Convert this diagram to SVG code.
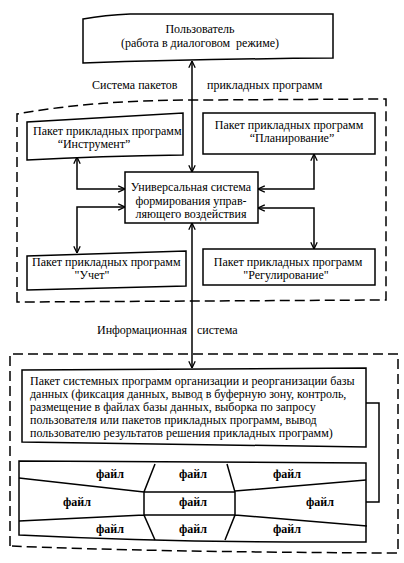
<svg xmlns="http://www.w3.org/2000/svg" width="404" height="563" viewBox="0 0 404 563">
<defs>
<style>
.bx{fill:#fff;stroke:#000;stroke-width:1.5}
.ds{fill:none;stroke:#000;stroke-width:1.5;stroke-dasharray:10,5}
.ln{fill:none;stroke:#000;stroke-width:1.5}
.cn{fill:none;stroke:#000;stroke-width:1.5;marker-start:url(#arr);marker-end:url(#arr)}
text{font-family:"Liberation Serif","Times New Roman",serif;font-size:12px;fill:#000}
.c{text-anchor:middle}
.f{font-weight:bold;text-anchor:middle}
</style>
<marker id="arr" viewBox="0 0 10 10" refX="9.5" refY="5" markerWidth="8" markerHeight="8" markerUnits="userSpaceOnUse" orient="auto-start-reverse">
<path d="M1,1 L9.5,5 L1,9" fill="none" stroke="#000" stroke-width="1.6"/>
</marker>
</defs>
<rect width="404" height="563" fill="#fff"/>

<g id="frame-apps">
<path class="ds" d="M17,302 L17,114 Q95,100 195,100 L386,99 L386,300 Z"/>
<text x="92" y="89">Система пакетов</text>
<text x="207" y="89">прикладных программ</text>
</g>

<g id="frame-info">
<path class="ds" d="M10,546 L10,354 L398,354 L398,553 Q150,552 10,546"/>
<text y="334"><tspan x="97">Информационная</tspan><tspan x="197">система</tspan></text>
</g>

<g id="connectors">
<line class="cn" x1="192" y1="61" x2="192" y2="172"/>
<line class="cn" x1="192" y1="223" x2="192" y2="368"/>
<path class="cn" d="M77,157 L77,189 L125,189"/>
<path class="cn" d="M125,207 L77,207 L77,253"/>
<path class="cn" d="M314,154 L314,189 L258,189"/>
<path class="cn" d="M258,208 L314,208 L314,249"/>
<path class="ln" d="M366,403 L379,403 L379,502 L366,502"/>
</g>

<g id="user">
<path class="bx" d="M83,63 L83,19 Q105,15 130,14 L333,14 L333,58 Q200,59 83,63 Z"/>
<text class="c" x="200" y="33">Пользователь</text>
<text class="c" x="200" y="47" xml:space="preserve">(работа в диалоговом  режиме)</text>
</g>

<g id="instrument">
<path class="bx" d="M27,160 L27,122 L183,113 L183,155 Q100,156 27,160 Z"/>
<text x="33" y="135">Пакет прикладных программ</text>
<text class="c" x="94" y="148">“Инструмент”</text>
</g>

<g id="planning">
<rect class="bx" x="203" y="113" width="172" height="41"/>
<text class="c" x="289" y="129">Пакет прикладных программ</text>
<text class="c" x="292" y="142">“Планирование”</text>
</g>

<g id="universal">
<rect class="bx" x="125" y="172" width="133" height="51"/>
<text class="c" x="191" y="191">Универсальная система</text>
<text class="c" x="191" y="205">формирования управ-</text>
<text class="c" x="191" y="218">ляющего воздействия</text>
</g>

<g id="accounting">
<path class="bx" d="M27,290 L27,256 L186,251 L186,286 Z"/>
<text x="32" y="266">Пакет прикладных программ</text>
<text class="c" x="92" y="279">"Учет"</text>
</g>

<g id="regulation">
<rect class="bx" x="203" y="249" width="172" height="36"/>
<text class="c" x="288" y="266">Пакет прикладных программ</text>
<text class="c" x="286" y="279">"Регулирование"</text>
</g>

<g id="dbms">
<path class="bx" d="M22,442 L22,370 L366,368 L366,447 Q200,445 22,442 Z"/>
<text x="30" y="385">Пакет системных программ организации и реорганизации базы</text>
<text x="30" y="398">данных (фиксация данных, вывод в буферную зону, контроль,</text>
<text x="30" y="411">размещение в файлах базы данных, выборка по запросу</text>
<text x="30" y="424">пользователя или пакетов прикладных программ, вывод</text>
<text x="30" y="437">пользователю результатов решения прикладных программ)</text>
</g>

<g id="files">
<path class="bx" d="M19,535 L19,461 L366,463 L366,542 Q180,543 19,535 Z"/>
<path class="ln" d="M155,464 L144,492 L144,515 L155,540 M227,464 L235,492 L235,515 L225,540 M144,492 L235,492 M144,515 L235,515 M19,478 L144,492 M19,521 L144,515 M235,491 L366,480 M235,515 L367,526"/>
<text class="f" x="110" y="478">файл</text>
<text class="f" x="193" y="478">файл</text>
<text class="f" x="287" y="478">файл</text>
<text class="f" x="77" y="506">файл</text>
<text class="f" x="193" y="506">файл</text>
<text class="f" x="320" y="506">файл</text>
<text class="f" x="110" y="533">файл</text>
<text class="f" x="193" y="533">файл</text>
<text class="f" x="287" y="533">файл</text>
</g>
</svg>
